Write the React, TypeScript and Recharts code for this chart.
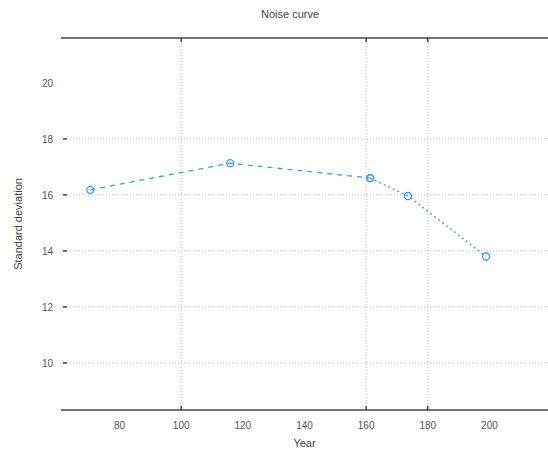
import React from "react";
import { LineChart, Line, XAxis, YAxis, ReferenceLine } from "recharts";

const years = [70.5, 115.9, 161.3, 173.6, 198.9];
const deviations = [16.18, 17.13, 16.6, 15.96, 13.8];
const xTicks = [80, 100, 120, 140, 160, 180, 200];
const xGrid = [100, 160, 180];
const yTicks = [10, 12, 14, 16, 18, 20];
const yGrid = [10, 12, 14, 16, 18];

const data = years.map((year, i) => ({
    year,
    dashed: i <= 2 ? deviations[i] : null,
    dotted: i >= 2 ? deviations[i] : null,
}));

const font = "'Liberation Sans', Arial, sans-serif";
const blue = "#3a9af5";
const axisColor = "#444";

const BottomTick = (props: any) => {
    const { x, y, payload } = props;
    return (
        <g>
            {xGrid.includes(payload.value) && (
                <line x1={x} x2={x} y1={y} y2={y - 4} stroke={axisColor} strokeWidth={1.5} />
            )}
            <text x={x} y={y + 19} textAnchor="middle" fontSize={10} fontFamily={font} fill="#555">
                {payload.value}
            </text>
        </g>
    );
};

const TopTick = (props: any) => {
    const { x, y } = props;
    return <line x1={x} x2={x} y1={y} y2={y + 4} stroke={axisColor} strokeWidth={1.5} />;
};

const LeftTick = (props: any) => {
    const { x, y, payload } = props;
    return (
        <g>
            {yGrid.includes(payload.value) && (
                <line x1={x + 2} x2={x + 6} y1={y} y2={y} stroke={axisColor} strokeWidth={1.5} />
            )}
            <text x={x - 8} y={y + 4} textAnchor="end" fontSize={10} fontFamily={font} fill="#555">
                {payload.value}
            </text>
        </g>
    );
};

const Dot = (props: any) => {
    const { cx, cy, value } = props;
    if (value == null) return null;
    return <circle cx={cx} cy={cy} r={3.5} stroke={blue} strokeWidth={1.3} fill="none" />;
};

export default function App() {
    return (
        <div style={{ position: "absolute", left: 0, top: 0, width: 548, height: 452, background: "#fff" }}>
            <div style={{ position: "absolute", top: 8, left: 0, width: 580, textAlign: "center", fontSize: 11, fontFamily: font, color: "#444" }}>
                Noise curve
            </div>
            <div style={{ position: "absolute", top: 437, left: 61, width: 487, textAlign: "center", fontSize: 11, fontFamily: font, color: "#444" }}>
                Year
            </div>
            <div style={{ position: "absolute", left: 18, top: 224, transform: "translate(-50%, -50%) rotate(-90deg)", whiteSpace: "nowrap", fontSize: 11, fontFamily: font, color: "#444" }}>
                Standard deviation
            </div>
            <LineChart width={548} height={452} data={data} margin={{ top: 37, right: 0, bottom: 0, left: 0 }}>
                <XAxis
                    dataKey="year"
                    type="number"
                    domain={[61, 219]}
                    ticks={xTicks}
                    interval={0}
                    height={42}
                    tickSize={0}
                    tickMargin={0}
                    tick={<BottomTick />}
                    axisLine={{ stroke: axisColor, strokeWidth: 1.5 }}
                    allowDataOverflow
                />
                <XAxis
                    xAxisId="top"
                    orientation="top"
                    dataKey="year"
                    type="number"
                    domain={[61, 219]}
                    ticks={xGrid}
                    interval={0}
                    height={1}
                    tickSize={0}
                    tickMargin={0}
                    tick={<TopTick />}
                    axisLine={{ stroke: axisColor, strokeWidth: 1.5 }}
                    allowDataOverflow
                />
                <YAxis
                    type="number"
                    domain={[8.32, 21.6]}
                    ticks={yTicks}
                    interval={0}
                    width={61}
                    tickSize={0}
                    tickMargin={0}
                    axisLine={false}
                    tick={<LeftTick />}
                    allowDataOverflow
                />
                {xGrid.map((v) => (
                    <ReferenceLine key={"x" + v} x={v} stroke="#bbb" strokeDasharray="1 2" />
                ))}
                {yGrid.map((v) => (
                    <ReferenceLine key={"y" + v} y={v} stroke="#bbb" strokeDasharray="1 2" />
                ))}
                <Line
                    dataKey="dashed"
                    stroke={blue}
                    strokeWidth={1.3}
                    strokeDasharray="5 5"
                    type="linear"
                    dot={<Dot />}
                    connectNulls={false}
                    isAnimationActive={false}
                />
                <Line
                    dataKey="dotted"
                    stroke={blue}
                    strokeWidth={1.3}
                    strokeDasharray="2 3"
                    type="linear"
                    dot={<Dot />}
                    connectNulls={false}
                    isAnimationActive={false}
                />
            </LineChart>
        </div>
    );
}
